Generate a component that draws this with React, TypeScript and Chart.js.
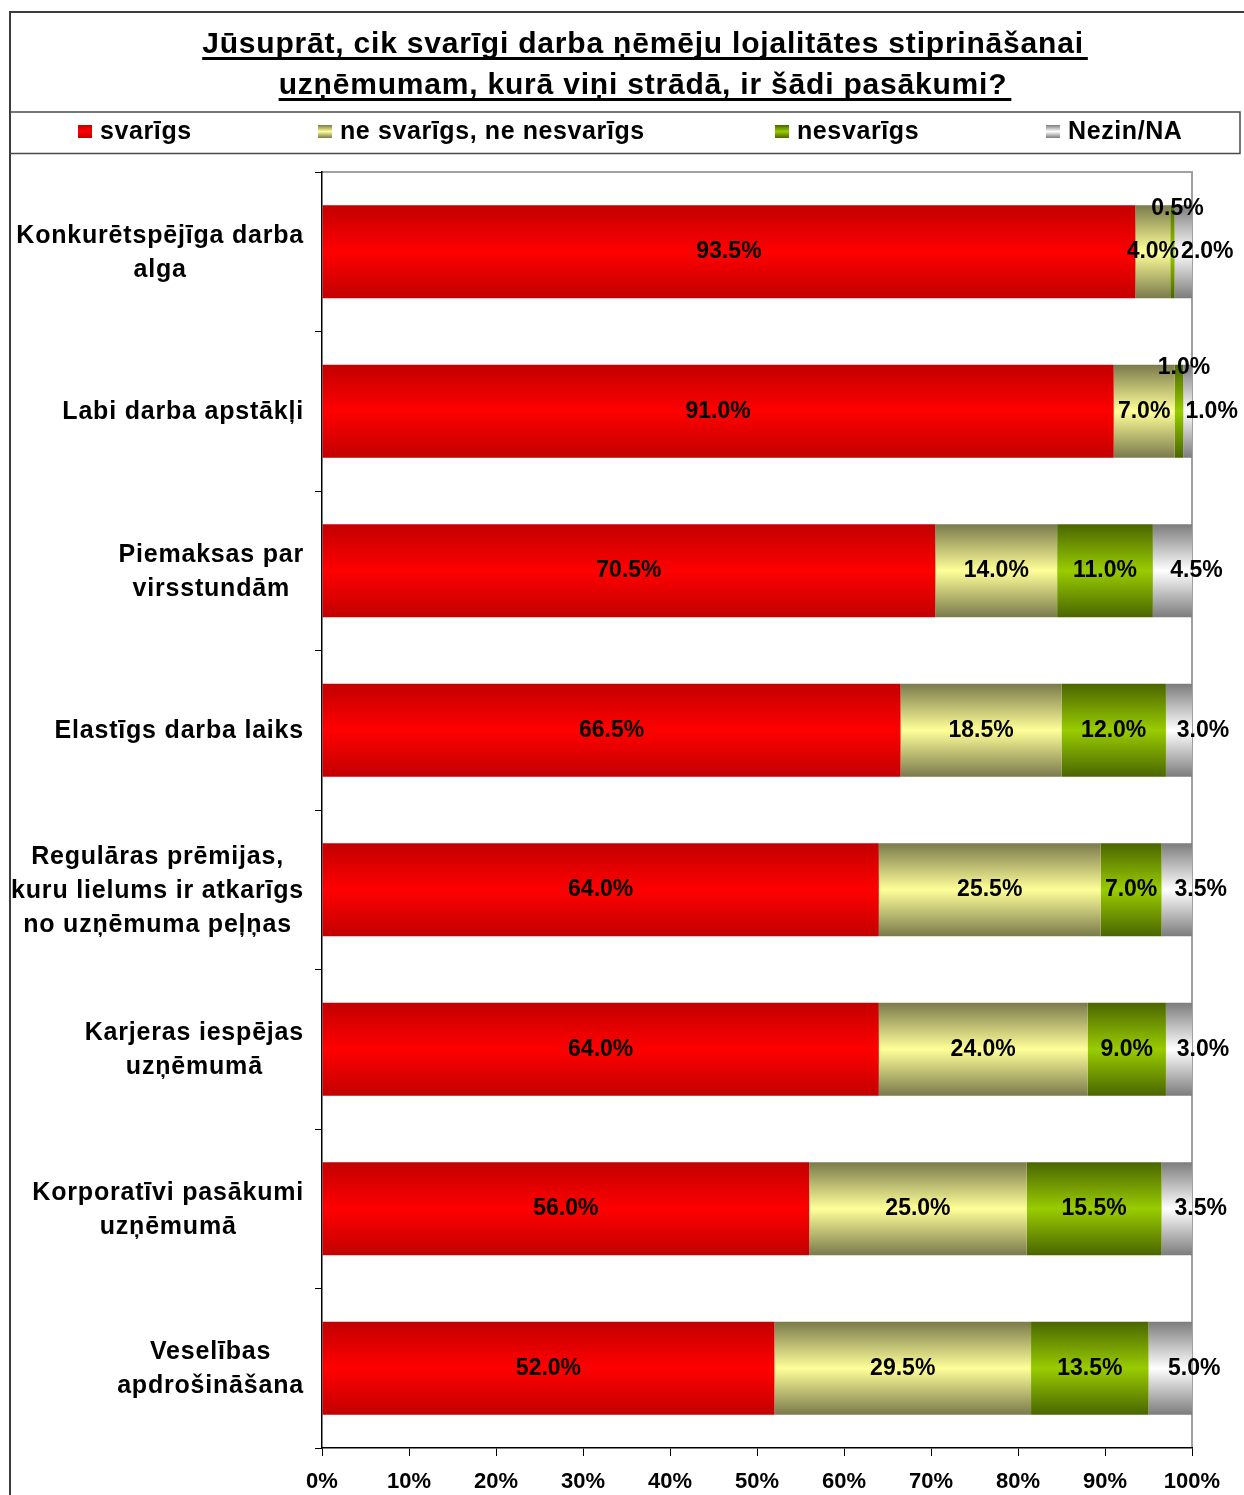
import React, { useEffect, useRef } from 'react';
import { Chart, registerables } from 'chart.js';

Chart.register(...registerables);

const TITLE_LINES = [
  'Jūsuprāt, cik svarīgi darba ņēmēju lojalitātes stiprināšanai',
  'uzņēmumam, kurā viņi strādā, ir šādi pasākumi?',
];

const CATEGORIES: string[][] = [
  ['Konkurētspējīga darba', 'alga'],
  ['Labi darba apstākļi'],
  ['Piemaksas par', 'virsstundām'],
  ['Elastīgs darba laiks'],
  ['Regulāras prēmijas,', 'kuru lielums ir atkarīgs', 'no uzņēmuma peļņas'],
  ['Karjeras iespējas', 'uzņēmumā'],
  ['Korporatīvi pasākumi', 'uzņēmumā'],
  ['Veselības', 'apdrošināšana'],
];

const SERIES_NAMES = ['svarīgs', 'ne svarīgs, ne nesvarīgs', 'nesvarīgs', 'Nezin/NA'];

const IMPORTANT = [93.5, 91.0, 70.5, 66.5, 64.0, 64.0, 56.0, 52.0];
const NEUTRAL = [4.0, 7.0, 14.0, 18.5, 25.5, 24.0, 25.0, 29.5];
const UNIMPORTANT = [0.5, 1.0, 11.0, 12.0, 7.0, 9.0, 15.5, 13.5];
const DONT_KNOW = [2.0, 1.0, 4.5, 3.0, 3.5, 3.0, 3.5, 5.0];

const X_TICK_VALUES = [0, 10, 20, 30, 40, 50, 60, 70, 80, 90, 100];

// styles
const W = 1244;
const H = 1495;
const FONT = '"Liberation Sans", Arial, sans-serif';
const BAR_PCT = 0.583;
const GRADS: [string, string][] = [
  ['#c20000', '#ff0000'],
  ['#7a7a4c', '#ffff99'],
  ['#4a6500', '#99cc00'],
  ['#7c7c7c', '#ffffff'],
];
const LEGEND_X = [78, 318, 775, 1046];

function grad(ctx: CanvasRenderingContext2D, top: number, bottom: number, i: number) {
  const g = ctx.createLinearGradient(0, top, 0, bottom);
  g.addColorStop(0, GRADS[i][0]);
  g.addColorStop(0.5, GRADS[i][1]);
  g.addColorStop(1, GRADS[i][0]);
  return g;
}

const framePlugin = {
  id: 'framePlugin',
  beforeDraw(chart: any) {
    const ctx: any = chart.ctx;
    ctx.save();
    ctx.fillStyle = '#ffffff';
    ctx.fillRect(0, 0, W, H);
    // outer frame
    ctx.strokeStyle = '#3c3c3c';
    ctx.lineWidth = 2;
    ctx.beginPath();
    ctx.moveTo(10, H);
    ctx.lineTo(10, 12);
    ctx.lineTo(W, 12);
    ctx.stroke();
    // legend box
    ctx.lineWidth = 1.5;
    ctx.strokeStyle = '#4a4a4a';
    ctx.beginPath();
    ctx.moveTo(10, 112);
    ctx.lineTo(1240, 112);
    ctx.lineTo(1240, 153.5);
    ctx.lineTo(10, 153.5);
    ctx.stroke();

    // title
    ctx.fillStyle = '#000';
    ctx.font = `bold 30px ${FONT}`;
    ctx.letterSpacing = '0.8px';
    ctx.textAlign = 'center';
    ctx.textBaseline = 'alphabetic';
    const baselines = [53, 94];
    TITLE_LINES.forEach((t, i) => {
      const cx = 643;
      ctx.fillText(t, cx, baselines[i]);
      const w = ctx.measureText(t).width;
      ctx.fillRect(cx - w / 2, baselines[i] + 4, w + 4, 3);
    });

    // legend
    ctx.font = `bold 25px ${FONT}`;
    ctx.letterSpacing = '0.6px';
    ctx.textAlign = 'left';
    ctx.textBaseline = 'middle';
    SERIES_NAMES.forEach((name, i) => {
      const x = LEGEND_X[i];
      ctx.fillStyle = grad(ctx, 125, 138, i);
      ctx.fillRect(x, 125, 14, 13);
      ctx.fillStyle = '#000';
      ctx.fillText(name, x + 22, 132);
    });
    ctx.letterSpacing = '0px';

    // plot area frame (top & right)
    const a = chart.chartArea;
    ctx.strokeStyle = '#a0a0a0';
    ctx.lineWidth = 2;
    ctx.beginPath();
    ctx.moveTo(a.left, a.top);
    ctx.lineTo(a.right, a.top);
    ctx.lineTo(a.right, a.bottom);
    ctx.stroke();
    ctx.restore();
  },
  afterDraw(chart: any) {
    const ctx: any = chart.ctx;
    const a = chart.chartArea;
    const ys = chart.scales.y;
    ctx.save();
    ctx.fillStyle = '#000';
    ctx.font = `bold 25px ${FONT}`;
    ctx.letterSpacing = '0.8px';
    ctx.textBaseline = 'middle';
    ctx.textAlign = 'center';
    const lineH = 34;
    CATEGORIES.forEach((lines, i) => {
      const cy = ys.getPixelForValue(i) + 1;
      const widest = Math.max(...lines.map((l) => ctx.measureText(l).width));
      const cx = a.left - 18 - widest / 2;
      lines.forEach((l, j) => {
        ctx.fillText(l, cx, cy + (j - (lines.length - 1) / 2) * lineH);
      });
    });
    ctx.letterSpacing = '0px';
    ctx.restore();
  },
  afterDatasetsDraw(chart: any) {
    const ctx: CanvasRenderingContext2D = chart.ctx;
    ctx.save();
    ctx.fillStyle = '#000';
    ctx.font = `bold 23px ${FONT}`;
    ctx.textAlign = 'center';
    ctx.textBaseline = 'middle';
    chart.data.datasets.forEach((ds: any, di: number) => {
      const meta = chart.getDatasetMeta(di);
      meta.data.forEach((el: any, i: number) => {
        const v = ds.data[i];
        const left = Math.min(el.x, el.base);
        const right = Math.max(el.x, el.base);
        const w = right - left;
        let x = (left + right) / 2;
        let y = el.y;
        if (di === 3) {
          x += 24;
        } else if (w < 20) {
          x += 5;
          y = el.y - el.height / 2 + 3;
        }
        ctx.fillText(v.toFixed(1) + '%', x, y);
      });
    });
    ctx.restore();
  },
};

export default function App() {
  const ref = useRef<HTMLCanvasElement | null>(null);
  useEffect(() => {
    if (!ref.current) return;
    const seriesData = [IMPORTANT, NEUTRAL, UNIMPORTANT, DONT_KNOW];
    const chart = new Chart(ref.current, {
      type: 'bar',
      data: {
        labels: CATEGORIES,
        datasets: seriesData.map((d, i) => ({
          label: SERIES_NAMES[i],
          data: d,
          borderWidth: 0,
          barPercentage: BAR_PCT,
          categoryPercentage: 1,
          backgroundColor: (c: any) => {
            const ch = c.chart;
            const ys = ch.scales && ch.scales.y;
            if (!ys || !ch.chartArea || c.dataIndex === undefined) return GRADS[i][1];
            const center = ys.getPixelForValue(c.dataIndex);
            const band = (ch.chartArea.bottom - ch.chartArea.top) / CATEGORIES.length;
            const h = band * BAR_PCT;
            return grad(ch.ctx, center - h / 2, center + h / 2, i);
          },
        })),
      },
      options: {
        indexAxis: 'y',
        animation: false,
        responsive: false,
        devicePixelRatio: 1,
        layout: { padding: { top: 172, right: 52, bottom: 0, left: 0 } },
        plugins: {
          legend: { display: false },
          title: { display: false },
          tooltip: { enabled: false },
        },
        scales: {
          x: {
            stacked: true,
            min: 0,
            max: 100,
            afterBuildTicks: (s: any) => {
              s.ticks = X_TICK_VALUES.map((v) => ({ value: v }));
            },
            afterFit: (s: any) => {
              s.height = 47;
            },
            border: { color: '#000', width: 1.5 },
            grid: { drawOnChartArea: false, tickLength: 8, color: '#000', lineWidth: 1 },
            ticks: {
              padding: 13,
              color: '#000',
              font: { family: FONT, weight: 'bold', size: 22 },
              callback: (v: any) => v + '%',
              maxRotation: 0,
            },
          },
          y: {
            stacked: true,
            afterFit: (s: any) => {
              s.width = 322;
            },
            border: { color: '#000', width: 1.5 },
            grid: { drawOnChartArea: false, tickLength: 7, color: '#000', lineWidth: 1, offset: true },
            ticks: { display: false },
          },
        },
      },
      plugins: [framePlugin],
    } as any);
    return () => chart.destroy();
  }, []);
  return (
    <canvas
      ref={ref}
      width={W}
      height={H}
      style={{ position: 'absolute', left: 0, top: 0, width: W, height: H, display: 'block' }}
    />
  );
}
